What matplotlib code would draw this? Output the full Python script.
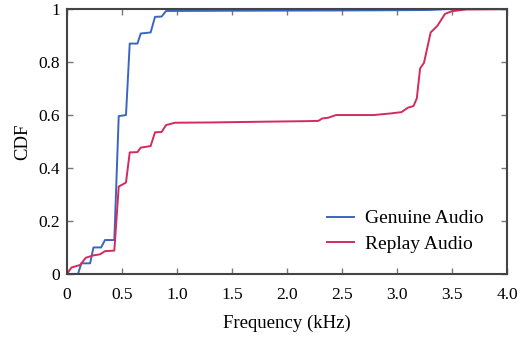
import matplotlib.pyplot as plt

plt.rcParams['font.family'] = ['Liberation Serif', 'DejaVu Serif']

# CDF curves (frequency in kHz, cumulative fraction)
genuine_freq = [0.0, 0.10, 0.13, 0.21, 0.24, 0.31, 0.345, 0.43, 0.47, 0.536,
                0.57, 0.64, 0.67, 0.76, 0.80, 0.86, 0.90, 1.5, 2.5, 3.0,
                3.3, 3.45, 4.0]
genuine_cdf = [0.0, 0.0, 0.04, 0.04, 0.10, 0.10, 0.128, 0.128, 0.596, 0.60,
               0.87, 0.87, 0.908, 0.912, 0.971, 0.972, 0.993, 0.994, 0.995, 0.996,
               0.997, 1.0, 1.0]

replay_freq = [0.0, 0.04, 0.12, 0.17, 0.24, 0.30, 0.345, 0.43, 0.47, 0.536,
               0.57, 0.64, 0.67, 0.76, 0.80, 0.86, 0.90, 0.98, 1.3, 1.8,
               2.18, 2.285, 2.32, 2.375, 2.445, 2.785, 2.94, 3.04, 3.10, 3.15,
               3.18, 3.21, 3.245, 3.306, 3.367, 3.436, 3.497, 3.63, 4.0]
replay_cdf = [0.0, 0.024, 0.034, 0.061, 0.07, 0.074, 0.086, 0.088, 0.33, 0.345,
              0.459, 0.46, 0.477, 0.483, 0.535, 0.536, 0.562, 0.571, 0.572, 0.575,
              0.577, 0.578, 0.587, 0.59, 0.60, 0.60, 0.606, 0.611, 0.628, 0.634,
              0.663, 0.776, 0.797, 0.912, 0.937, 0.982, 0.992, 0.999, 1.0]

xticks = [0, 0.5, 1.0, 1.5, 2.0, 2.5, 3.0, 3.5, 4.0]
xtick_labels = ['0', '0.5', '1.0', '1.5', '2.0', '2.5', '3.0', '3.5', '4.0']
yticks = [0, 0.2, 0.4, 0.6, 0.8, 1.0]
ytick_labels = ['0', '0.2', '0.4', '0.6', '0.8', '1']

fig = plt.figure(figsize=(5.32, 3.39), dpi=100)
ax = fig.add_axes([0.126, 0.192, 0.827, 0.781])

ax.plot(genuine_freq, genuine_cdf, color='#3c66be', lw=1.4, label='Genuine Audio')
ax.plot(replay_freq, replay_cdf, color='#d42a5e', lw=1.4, label='Replay Audio')

ax.set_xlim(0, 4.0)
ax.set_ylim(0, 1.0)
ax.set_xticks(xticks)
ax.set_xticklabels(xtick_labels)
ax.set_yticks(yticks)
ax.set_yticklabels(ytick_labels)
ax.tick_params(direction='in', top=True, right=True, length=4, width=1,
               color='#777777', labelsize=12.5)
ax.tick_params(axis='x', pad=9.5)
ax.tick_params(axis='y', pad=5)
for s in ax.spines.values():
    s.set_color('#444444')
    s.set_linewidth(1.5)

ax.set_xlabel('Frequency (kHz)', fontsize=13.5, labelpad=8.5)
ax.set_ylabel('CDF', fontsize=13.5, labelpad=5)

ax.legend(loc='lower right', bbox_to_anchor=(0.986, 0.012), frameon=False,
          fontsize=14, handlelength=1.35, handletextpad=0.57, labelspacing=0.42)

fig.savefig('out.png', dpi=100)
